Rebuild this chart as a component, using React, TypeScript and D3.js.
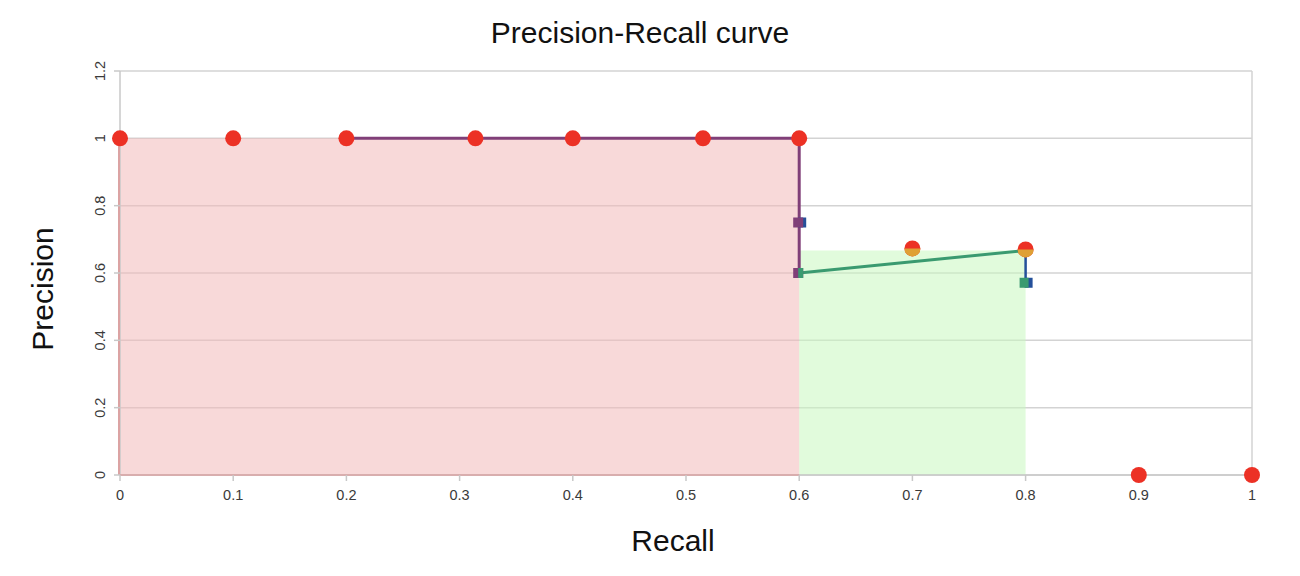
import React from "react";
import * as d3 from "d3";

const W = 1300;
const H = 576;

// Data
const xTicks = [0, 0.1, 0.2, 0.3, 0.4, 0.5, 0.6, 0.7, 0.8, 0.9, 1];
const yTicks = [0, 0.2, 0.4, 0.6, 0.8, 1, 1.2];

// Raw precision/recall points (red dots)
const pointRecall = [0, 0.1, 0.2, 0.314, 0.4, 0.515, 0.6, 0.7, 0.8, 0.9, 1];
const pointPrecision = [1, 1, 1, 1, 1, 1, 1, 0.673, 0.67, 0, 0];

// Orange points (lower half visible under red dots)
const orangeRecall = [0.7, 0.8];
const orangePrecision = [0.673, 0.67];

// Purple step line
const purpleRecall = [0.2, 0.4, 0.6, 0.6, 0.6];
const purplePrecision = [1, 1, 1, 0.75, 0.6];

// Green line
const greenRecall = [0.6, 0.8];
const greenPrecision = [0.6, 0.667];
const greenSquareRecall = [0.6, 0.8];
const greenSquarePrecision = [0.6, 0.571];

// Blue line / squares
const blueRecall = [0.8, 0.8];
const bluePrecision = [0.667, 0.571];
const blueSquareRecall = [0.6, 0.8];
const blueSquarePrecision = [0.75, 0.571];

// Shaded areas
const redAreaRecall = [0, 0.6];
const redAreaPrecision = [1, 1];
const greenAreaRecall = [0.6, 0.8];
const greenAreaPrecision = [0.667, 0.667];

const zip = (xs: number[], ys: number[]) => xs.map((x, i) => [x, ys[i]] as [number, number]);

export default function App() {
  const left = 120, right = 1252, top = 71, bottom = 475;
  const x = d3.scaleLinear().domain([0, 1]).range([left, right]);
  const y = d3.scaleLinear().domain([0, 1.2]).range([bottom, top]);

  const line = d3.line<[number, number]>().x(d => x(d[0])).y(d => y(d[1]));
  const area = d3.area<[number, number]>().x(d => x(d[0])).y0(y(0)).y1(d => y(d[1]));
  const r = 8;
  const halfArc = d3.arc()({ innerRadius: 0, outerRadius: r, startAngle: Math.PI / 2, endAngle: (3 * Math.PI) / 2 }) || "";

  const red = "#ec3125";
  const purple = "#803f78";
  const green = "#3a9a70";
  const blue = "#24509a";
  const orange = "#dfa035";
  const font = "'Liberation Sans', Arial, sans-serif";
  const sq = 10;

  return (
    <svg width={W} height={H} style={{ position: "absolute", left: 0, top: 0, background: "#fff" }} fontFamily={font}>
      <rect x={0} y={0} width={W} height={H} fill="#fff" />
      {/* grid */}
      {yTicks.map(t => (
        <line key={"g" + t} x1={x(0)} x2={x(1)} y1={y(t)} y2={y(t)} stroke="#d3d3d3" strokeWidth={1.5} />
      ))}
      <line x1={x(1)} x2={x(1)} y1={y(0)} y2={y(1.2)} stroke="#d3d3d3" strokeWidth={1.5} />
      {/* areas */}
      <path d={area(zip(redAreaRecall, redAreaPrecision)) || ""} fill="#f3b9b9" fillOpacity={0.55} />
      <path d={area(zip(greenAreaRecall, greenAreaPrecision)) || ""} fill="#c8f8c0" fillOpacity={0.55} />
      {/* axes */}
      <line x1={x(0)} x2={x(0)} y1={y(0)} y2={y(1.2)} stroke="#c8c8c8" strokeWidth={1.5} />
      <line x1={x(0) - 1} x2={x(0) - 1} y1={y(0)} y2={y(1)} stroke="#dba3a3" strokeWidth={2} />
      <line x1={x(0)} x2={x(1)} y1={y(0)} y2={y(0)} stroke="#c8c8c8" strokeWidth={1.5} />
      <line x1={x(0)} x2={x(0.6)} y1={y(0)} y2={y(0)} stroke="#dba3a3" strokeWidth={1.5} />
      {xTicks.map(t => (
        <g key={"xt" + t}>
          <line x1={x(t)} x2={x(t)} y1={y(0)} y2={y(0) + 6} stroke="#c8c8c8" strokeWidth={1.5} />
          <text x={x(t)} y={y(0) + 25} textAnchor="middle" fontSize={14.5} fill="#3a3a3a">{String(t)}</text>
        </g>
      ))}
      {yTicks.map(t => (
        <g key={"yt" + t}>
          <line x1={x(0) - 6} x2={x(0)} y1={y(t)} y2={y(t)} stroke="#c8c8c8" strokeWidth={1.5} />
          <text transform={`translate(${x(0) - 15},${y(t)}) rotate(-90)`} textAnchor="middle" fontSize={14.5} fill="#3a3a3a">{String(t)}</text>
        </g>
      ))}
      {/* lines */}
      <path d={line(zip(purpleRecall, purplePrecision)) || ""} fill="none" stroke={purple} strokeWidth={3} />
      <path d={line(zip(greenRecall, greenPrecision)) || ""} fill="none" stroke={green} strokeWidth={3} />
      <path d={line(zip(blueRecall, bluePrecision)) || ""} fill="none" stroke={blue} strokeWidth={2.5} />
      {/* squares */}
      {zip(blueSquareRecall, blueSquarePrecision).map((d, i) => (
        <rect key={"bs" + i} x={x(d[0]) - sq / 2 + 4} y={y(d[1]) - sq / 2} width={sq - 2} height={sq} fill={blue} />
      ))}
      {zip(purpleRecall, purplePrecision).map((d, i) => (
        <rect key={"ps" + i} x={x(d[0]) - sq / 2 - 1} y={y(d[1]) - sq / 2} width={sq} height={sq} fill={purple} />
      ))}
      {zip(greenSquareRecall, greenSquarePrecision).map((d, i) => (
        <rect key={"gs" + i} x={x(d[0]) - sq / 2 + (i === 0 ? 4 : -1)} y={y(d[1]) - sq / 2} width={i === 0 ? 5 : sq - 1} height={sq} fill={green} />
      ))}
      {/* red points */}
      {zip(pointRecall, pointPrecision).map((d, i) => (
        <circle key={"r" + i} cx={x(d[0])} cy={y(d[1])} r={r} fill={red} />
      ))}
      {/* orange half points */}
      {zip(orangeRecall, orangePrecision).map((d, i) => (
        <path key={"o" + i} d={halfArc} transform={`translate(${x(d[0])},${y(d[1])})`} fill={orange} />
      ))}
      <text x={640} y={43} textAnchor="middle" fontSize={30} fill="#111">Precision-Recall curve</text>
      <text x={673} y={551} textAnchor="middle" fontSize={30} fill="#111">Recall</text>
      <text transform={`translate(53,${289}) rotate(-90)`} textAnchor="middle" fontSize={30} fill="#111">Precision</text>
    </svg>
  );
}
